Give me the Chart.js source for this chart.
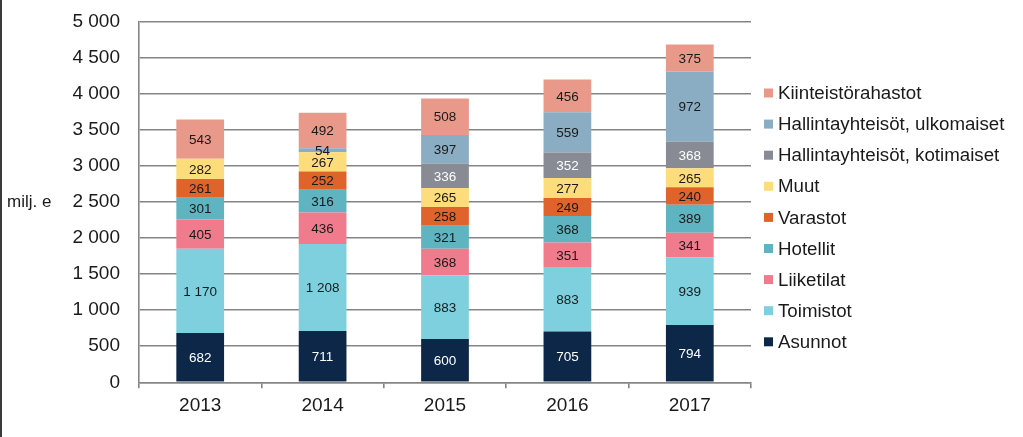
<!DOCTYPE html>
<html>
<head>
<meta charset="utf-8">
<script src="https://cdn.jsdelivr.net/npm/chart.js@4"></script>
<style>
  html, body { margin: 0; padding: 0; background: #fff; }
  #wrap { width: 1023px; height: 437px; position: relative; }
</style>
</head>
<body>
<div id="wrap"><canvas id="c" width="1023" height="437"></canvas></div>
<script>
const categories = ['2013', '2014', '2015', '2016', '2017'];
const seriesNames = ['Asunnot', 'Toimistot', 'Liiketilat', 'Hotellit', 'Varastot', 'Muut',
  'Hallintayhteisöt, kotimaiset', 'Hallintayhteisöt, ulkomaiset', 'Kiinteistörahastot'];
const asunnot = [682, 711, 600, 705, 794];
const toimistot = [1170, 1208, 883, 883, 939];
const liiketilat = [405, 436, 368, 351, 341];
const hotellit = [301, 316, 321, 368, 389];
const varastot = [261, 252, 258, 249, 240];
const muut = [282, 267, 265, 277, 265];
const kotimaiset = [0, 0, 336, 352, 368];
const ulkomaiset = [0, 54, 397, 559, 972];
const kiinteistorahastot = [543, 492, 508, 456, 375];
const yTicks = [0, 500, 1000, 1500, 2000, 2500, 3000, 3500, 4000, 4500, 5000];
const yAxisTitle = 'milj. e';

const colors = ['#0c2748', '#7fd0df', '#f07b8c', '#5fb4c1', '#e0632b', '#fddc7c', '#888b94', '#8badc3', '#e8998a'];
const labelColors = ['#ffffff', '#1a1a1a', '#1a1a1a', '#1a1a1a', '#1a1a1a', '#1a1a1a', '#ffffff', '#1a1a1a', '#1a1a1a'];
const seriesValues = [asunnot, toimistot, liiketilat, hotellit, varastot, muut, kotimaiset, ulkomaiset, kiinteistorahastot];

function fmt(v) { return String(v).replace(/\B(?=(\d{3})+(?!\d))/g, ' '); }

const FONT = "'Liberation Sans', Arial, sans-serif";

const dataLabels = {
  id: 'dataLabels',
  afterDatasetsDraw(chart) {
    const ctx = chart.ctx;
    ctx.save();
    ctx.font = '13.5px ' + FONT;
    ctx.textAlign = 'center';
    ctx.textBaseline = 'middle';
    chart.data.datasets.forEach((ds, i) => {
      const meta = chart.getDatasetMeta(i);
      meta.data.forEach((bar, j) => {
        const v = ds.data[j];
        if (!v) return;
        const p = bar.getProps(['x', 'y', 'base'], true);
        ctx.fillStyle = labelColors[i];
        ctx.fillText(fmt(v), p.x, (p.y + p.base) / 2 + 1);
      });
    });
    ctx.restore();
  }
};

const extras = {
  id: 'extras',
  beforeDraw(chart) {
    const ctx = chart.ctx;
    ctx.save();
    ctx.fillStyle = '#fff';
    ctx.fillRect(0, 0, chart.width, chart.height);
    ctx.fillStyle = '#3a3a3a';
    ctx.fillRect(0, 0, 2, chart.height);
    ctx.restore();
  },
  afterDraw(chart) {
    const ctx = chart.ctx;
    ctx.save();
    const ys = chart.scales.y;
    ctx.font = '17px ' + FONT;
    ctx.fillStyle = '#1a1a1a';
    ctx.textAlign = 'left';
    ctx.textBaseline = 'middle';
    ctx.fillText(yAxisTitle, 7, ys.getPixelForValue(2500));
    const n = chart.data.datasets.length;
    ctx.font = '18.7px ' + FONT;
    for (let k = 0; k < n; k++) {
      const i = n - 1 - k;
      const y = 93 + k * 31.1;
      ctx.fillStyle = colors[i];
      ctx.fillRect(764, y - 4.5, 9, 9);
      ctx.fillStyle = '#1a1a1a';
      ctx.fillText(chart.data.datasets[i].label, 778, y + 1);
    }
    ctx.restore();
  }
};

const datasets = seriesNames.map((name, i) => ({
  label: name,
  data: seriesValues[i],
  backgroundColor: colors[i],
  borderWidth: 0,
  barPercentage: 0.39,
  categoryPercentage: 1.0,
  stack: 's'
}));

new Chart(document.getElementById('c'), {
  type: 'bar',
  data: { labels: categories, datasets },
  plugins: [dataLabels, extras],
  options: {
    responsive: false,
    animation: false,
    devicePixelRatio: 1,
    layout: { padding: { left: 0, right: 272, top: 21.7, bottom: 0 } },
    plugins: { legend: { display: false }, tooltip: { enabled: false } },
    scales: {
      x: {
        stacked: true,
        grid: { offset: true, drawOnChartArea: false, drawTicks: true, tickLength: 6, color: '#858585', lineWidth: 1.6 },
        border: { display: true, color: '#858585', width: 1.6 },
        ticks: { color: '#1a1a1a', font: { family: FONT, size: 19 }, padding: 6 },
        afterFit(s) { s.height = 54.7; s.paddingLeft = 0; s.paddingRight = 0; }
      },
      y: {
        stacked: true,
        min: 0, max: 5000,
        afterBuildTicks(s) { s.ticks = yTicks.map(v => ({ value: v })); },
        grid: { color: '#858585', lineWidth: 1.6, drawTicks: false },
        border: { display: true, color: '#858585', width: 1.6 },
        ticks: { color: '#1a1a1a', font: { family: FONT, size: 19 }, padding: 19, callback: v => fmt(v) },
        afterFit(s) { s.width = 139; s.paddingTop = 0; s.paddingBottom = 0; }
      }
    }
  }
});
</script>
</body>
</html>
